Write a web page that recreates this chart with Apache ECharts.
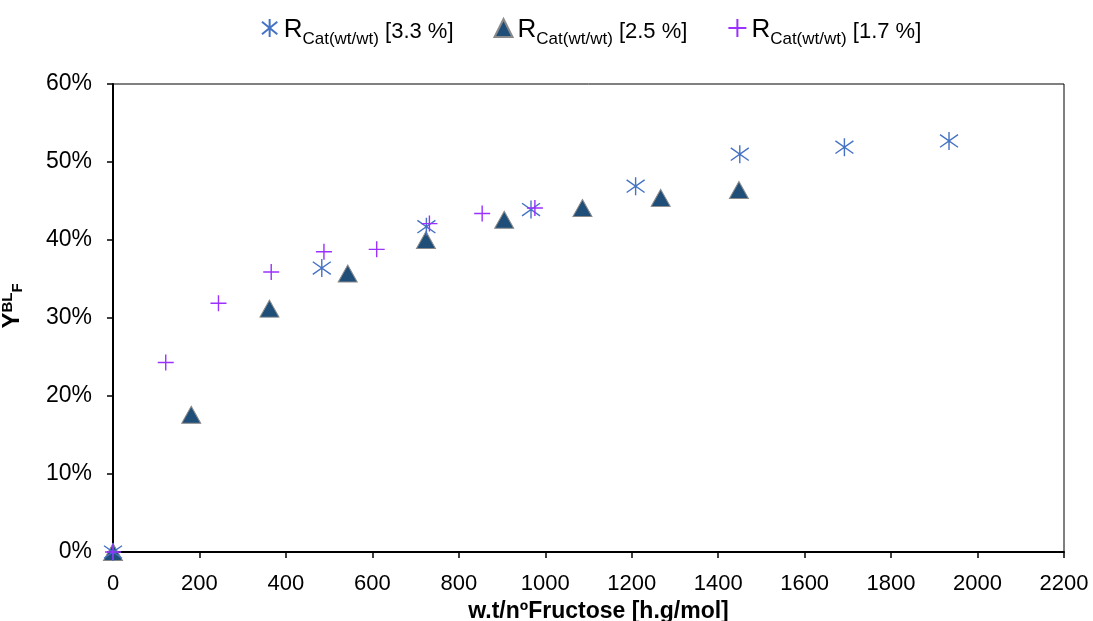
<!DOCTYPE html>
<html>
<head>
<meta charset="utf-8">
<script src="https://cdn.jsdelivr.net/npm/echarts@6/dist/echarts.min.js"></script>
<style>
  html, body { margin: 0; padding: 0; background: #fff; }
  #chart { width: 1093px; height: 621px; }
</style>
</head>
<body>
<div id="chart"></div>
<script>
// Catalyst ratio series: time per mol fructose [h.g/mol] vs. yield (%)
const seriesNames = ['3.3 %', '2.5 %', '1.7 %'];

const x33 = [0, 483, 725, 967, 1209, 1450, 1692, 1934];
const y33 = [0, 36.4, 41.7, 43.9, 46.9, 51.0, 51.9, 52.7];

const x25 = [0, 181, 362, 543, 724, 905, 1086, 1267, 1448];
const y25 = [0, 17.6, 31.2, 35.7, 40.0, 42.6, 44.1, 45.4, 46.4];

const x17 = [0, 122, 244, 366, 488, 610, 732, 854, 976];
const y17 = [0, 24.3, 31.9, 35.9, 38.5, 38.8, 42.1, 43.4, 44.1];

const yTicks = [0, 10, 20, 30, 40, 50, 60];

const FONT = '"Liberation Sans", Arial, sans-serif';
const pairs = (xs, ys) => xs.map((x, i) => [x, ys[i]]);

const asteriskPath = 'path://M10,0 L10,20 M1.5,3 L18.5,17 M18.5,3 L1.5,17';
const crossPath = 'path://M10,0 L10,20 M0,10 L20,10';

const legendRich = {
  r: { fontFamily: FONT, fontSize: 26, color: '#000', verticalAlign: 'bottom', lineHeight: 30 },
  s: { fontFamily: FONT, fontSize: 17, color: '#000', verticalAlign: 'bottom', lineHeight: 22, padding: [0, 0, -5, 0] },
  t: { fontFamily: FONT, fontSize: 22, color: '#000', verticalAlign: 'bottom', lineHeight: 26 }
};

const chart = echarts.init(document.getElementById('chart'), null, { renderer: 'canvas' });

chart.setOption({
  backgroundColor: '#fff',
  animation: false,
  legend: {
    top: 12,
    left: 256,
    itemGap: 40,
    itemWidth: 18,
    itemHeight: 18,
    data: seriesNames,
    formatter: (name) => '{r|R}{s|Cat(wt/wt)}{t| [' + name + ']}',
    textStyle: { rich: legendRich }
  },
  grid: {
    left: 113, right: 29, top: 84, bottom: 69,
    outerBoundsMode: 'none',
    containLabel: false,
    show: true, borderColor: '#000', borderWidth: 1
  },
  xAxis: {
    type: 'value',
    min: 0, max: 2200, interval: 200,
    name: 'w.t/nºFructose [h.g/mol]',
    nameLocation: 'middle',
    nameGap: 48,
    nameTextStyle: {
      fontFamily: FONT, fontSize: 23, fontWeight: 'bold', color: '#000',
      padding: [0, 0, 0, 20]
    },
    axisLine: { show: true, onZero: false, lineStyle: { color: '#000', width: 2 } },
    axisTick: { show: true, length: 6, lineStyle: { color: '#000', width: 1.5 } },
    axisLabel: {
      fontFamily: FONT, fontSize: 22, color: '#000', margin: 21,
      formatter: (v) => String(v)
    },
    splitLine: { show: false }
  },
  yAxis: {
    type: 'value',
    min: 0, max: 60, interval: 10,
    name: 'Y{sup|BL}{sub|F}',
    nameLocation: 'middle',
    nameGap: 88,
    nameRotate: 90,
    nameTextStyle: {
      fontFamily: FONT, fontSize: 24, fontWeight: 'bold', color: '#000',
      padding: [0, 0, 0, 24],
      rich: {
        sup: { fontFamily: FONT, fontSize: 15, fontWeight: 'bold', color: '#000', verticalAlign: 'top', padding: [0, 0, 8, 0] },
        sub: { fontFamily: FONT, fontSize: 15, fontWeight: 'bold', color: '#000', verticalAlign: 'bottom', padding: [10, 0, 0, 0] }
      }
    },
    axisLine: { show: true, onZero: false, lineStyle: { color: '#000', width: 2 } },
    axisTick: { show: true, length: 6, lineStyle: { color: '#000', width: 1.5 } },
    axisLabel: {
      fontFamily: FONT, fontSize: 23, color: '#000', margin: 21,
      formatter: (v) => yTicks.includes(v) ? v + '%' : ''
    },
    splitLine: { show: false }
  },
  series: [
    {
      name: seriesNames[0],
      type: 'scatter',
      data: pairs(x33, y33),
      symbol: asteriskPath,
      symbolSize: 18,
      itemStyle: { color: 'rgba(0,0,0,0)', borderColor: '#4472C4', borderWidth: 1.4, opacity: 1 },
      z: 3
    },
    {
      name: seriesNames[1],
      type: 'scatter',
      data: pairs(x25, y25),
      symbol: 'triangle',
      symbolSize: [19, 17],
      itemStyle: { color: '#1F4E79', borderColor: '#8a8a8a', borderWidth: 1, opacity: 1 },
      z: 2
    },
    {
      name: seriesNames[2],
      type: 'scatter',
      data: pairs(x17, y17),
      symbol: crossPath,
      symbolSize: 16,
      itemStyle: { color: 'rgba(0,0,0,0)', borderColor: '#9B30FF', borderWidth: 1.4, opacity: 1 },
      z: 4
    }
  ]
});
</script>
</body>
</html>
